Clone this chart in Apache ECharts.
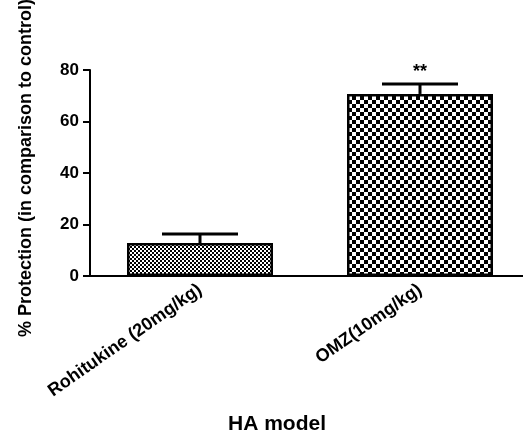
<!DOCTYPE html>
<html>
<head>
<meta charset="utf-8">
<script src="https://cdn.jsdelivr.net/npm/echarts@6/dist/echarts.min.js"></script>
<style>
  html, body { margin: 0; padding: 0; background: #fff; }
  #chart { width: 523px; height: 439px; }
</style>
</head>
<body>
<div id="chart"></div>
<script>
const categories = ['Rohitukine (20mg/kg)', 'OMZ(10mg/kg)']
const means = [12.8, 70.7]
const errors = [3.5, 3.9]
const stars = ['', '**']
const yTicks = [0, 20, 40, 60, 80]

const FONT = '"Liberation Sans", Arial, sans-serif'

// checkerboard fill, cell = size of one square in px
function checker(cell) {
  const c = document.createElement('canvas')
  c.width = cell * 2
  c.height = cell * 2
  const ctx = c.getContext('2d')
  ctx.fillStyle = '#fff'
  ctx.fillRect(0, 0, c.width, c.height)
  ctx.fillStyle = '#000'
  ctx.fillRect(0, 0, cell, cell)
  ctx.fillRect(cell, cell, cell, cell)
  return { image: c, repeat: 'repeat' }
}
const fills = [checker(2), checker(4)]

const chart = echarts.init(document.getElementById('chart'))
chart.setOption({
  animation: false,
  grid: { left: 90, top: 70, width: 440, height: 206, outerBoundsMode: 'none' },
  xAxis: {
    type: 'category',
    data: categories,
    axisLine: { lineStyle: { color: '#000', width: 2 } },
    axisTick: { alignWithLabel: true, length: 7, lineStyle: { color: '#000', width: 2 } },
    axisLabel: {
      rotate: 35, margin: 12, color: '#000',
      fontFamily: FONT, fontWeight: 'bold', fontSize: 18
    }
  },
  yAxis: {
    type: 'value',
    min: 0, max: 80, interval: 20,
    name: '% Protection (in comparison to control)',
    nameLocation: 'middle',
    nameGap: 55,
    nameTextStyle: { color: '#000', fontFamily: FONT, fontWeight: 'bold', fontSize: 18, padding: [0, 0, 0, 10] },
    axisLine: { show: true, lineStyle: { color: '#000', width: 2 } },
    axisTick: { show: true, length: 7, lineStyle: { color: '#000', width: 2 } },
    axisLabel: {
      margin: 11, color: '#000', fontFamily: FONT, fontWeight: 'bold', fontSize: 17,
      formatter: v => yTicks.includes(v) ? String(v) : ''
    },
    splitLine: { show: false }
  },
  graphic: [{
    type: 'text', left: 228, top: 414,
    style: { text: 'HA model', fill: '#000', font: 'bold 21px ' + FONT }
  }],
  series: [
    {
      type: 'bar',
      barWidth: 146,
      data: means.map((v, i) => ({
        value: v,
        itemStyle: { color: fills[i], borderColor: '#000', borderWidth: 2.5 }
      })),
      z: 2
    },
    {
      type: 'custom',
      z: 3,
      data: means.map((m, i) => [i, m, errors[i]]),
      renderItem: (params, api) => {
        const i = api.value(0)
        const top = api.coord([i, api.value(1)])
        const hi = api.coord([i, api.value(1) + api.value(2)])
        const half = 38
        const children = [
          { type: 'line', shape: { x1: top[0], y1: top[1], x2: hi[0], y2: hi[1] },
            style: { stroke: '#000', lineWidth: 3 } },
          { type: 'line', shape: { x1: hi[0] - half, y1: hi[1], x2: hi[0] + half, y2: hi[1] },
            style: { stroke: '#000', lineWidth: 3 } }
        ]
        if (stars[i]) {
          children.push({
            type: 'text',
            style: {
              text: stars[i], x: hi[0], y: hi[1] - 3,
              align: 'center', verticalAlign: 'bottom',
              fill: '#000', font: 'bold 18px ' + FONT
            }
          })
        }
        return { type: 'group', children }
      }
    }
  ]
})
</script>
</body>
</html>
